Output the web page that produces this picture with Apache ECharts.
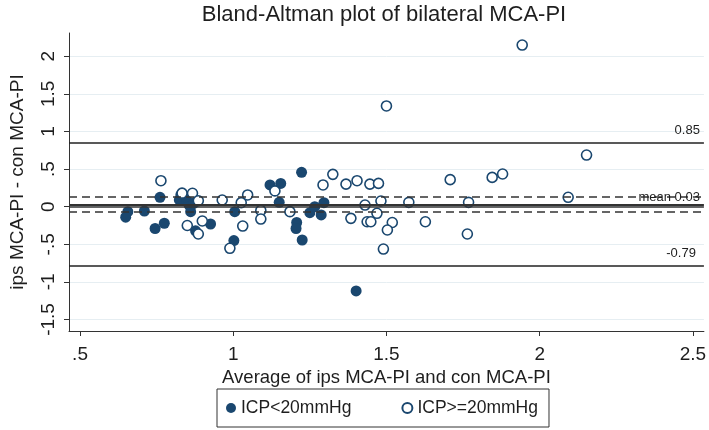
<!DOCTYPE html>
<html>
<head>
<meta charset="utf-8">
<script src="https://cdn.jsdelivr.net/npm/echarts@6/dist/echarts.min.js"></script>
<style>
html,body{margin:0;padding:0;background:#fff;}
#chart{width:709px;height:430px;}
</style>
</head>
<body>
<div id="chart"></div>
<script>
// ---- data ----
var lowICP = [ // ICP<20mmHg : [average, difference]
  [0.656,-0.066],[0.649,-0.14],[0.710,-0.057],[0.745,-0.29],[0.775,-0.22],
  [0.761,0.125],[0.829,0.156],[0.840,0.110],[0.824,0.090],[0.850,0.067],
  [0.856,0.020],[0.861,-0.066],[0.845,0.130],[0.870,0.040],[0.877,-0.32],
  [0.926,-0.23],[1.005,-0.066],[1.002,-0.45],[1.120,0.289],[1.155,0.31],
  [1.150,0.058],[1.223,0.457],[1.207,-0.21],[1.205,-0.29],[1.225,-0.443],
  [1.250,-0.08],[1.266,0.00],[1.287,-0.11],[1.296,0.053],[1.401,-1.12]
];
var highICP = [ // ICP>=20mmHg
  [0.764,0.346],[0.833,0.18],[0.867,0.178],[0.886,0.08],[0.850,-0.25],
  [0.899,-0.19],[0.886,-0.363],[0.964,0.089],[1.047,0.156],[1.026,0.053],
  [1.031,-0.257],[0.989,-0.553],[1.090,-0.05],[1.090,-0.164],[1.136,0.21],
  [1.185,-0.066],[1.325,0.43],[1.293,0.289],[1.368,0.30],[1.404,0.346],
  [1.446,0.30],[1.474,0.31],[1.430,0.022],[1.482,0.076],[1.469,-0.088],
  [1.384,-0.155],[1.437,-0.2],[1.449,-0.2],[1.519,-0.21],[1.503,-0.31],
  [1.490,-0.563],[1.573,0.058],[1.627,-0.2],[1.708,0.36],[1.768,0.058],
  [1.764,-0.363],[1.845,0.39],[1.879,0.435],[2.093,0.125],[2.153,0.687],
  [1.943,2.15],[1.500,1.34]
];
var seriesNames = ['ICP<20mmHg', 'ICP>=20mmHg'];
var xTicks = [0.5, 1, 1.5, 2, 2.5];
var yTicks = [-1.5, -1, -0.5, 0, 0.5, 1, 1.5, 2];
var upperLoA = 0.85, lowerLoA = -0.79, meanDiff = 0.03;
var meanCI = [0.133, -0.067];
var zeroLine = 0;
var titleText = 'Bland-Altman plot of bilateral MCA-PI';
var xName = 'Average of ips MCA-PI and con MCA-PI';
var yName = 'ips MCA-PI - con MCA-PI';

// ---- chart ----
var FONT = '"Liberation Sans", Arial, sans-serif';
var NAVY = '#1a476f';
var INK = '#1e1e1e';
function fmt(v){ var s = String(v); return s.replace(/^0\./,'.').replace(/^-0\./,'-.'); }

var chart = echarts.init(document.getElementById('chart'), null, {renderer:'canvas'});
var solid = {color:'#222', type:'solid', width:1.5};
var dashed = {color:'#333', type:[8,5], width:1.5};
var lblBase = {position:'insideEndTop', color:INK, fontSize:13, fontFamily:FONT};

chart.setOption({
  animation:false,
  backgroundColor:'#fff',
  textStyle:{fontFamily:FONT},
  graphic:[{type:'text', x:384, y:15, silent:true,
    style:{text:titleText, fill:INK, font:'22px "Liberation Sans", Arial, sans-serif',
      align:'center', verticalAlign:'middle'}}],
  grid:{left:64, right:5, top:33, bottom:99, containLabel:false},
  xAxis:{type:'value', min:0.464, max:2.536,
    name:xName, nameLocation:'middle', nameGap:33,
    nameTextStyle:{fontSize:18.5, color:INK, fontFamily:FONT},
    axisLine:{show:true, onZero:false, lineStyle:{color:'#333', width:1}},
    axisTick:{show:true, length:5, customValues:xTicks, lineStyle:{color:'#333'}},
    axisLabel:{customValues:xTicks, formatter:fmt, fontSize:19, color:INK, margin:14},
    splitLine:{show:false}},
  yAxis:{type:'value', min:-1.653, max:2.31,
    name:yName, nameLocation:'middle', nameGap:42,
    nameTextStyle:{fontSize:19, color:INK, fontFamily:FONT},
    axisLine:{show:true, onZero:false, lineStyle:{color:'#333', width:1}},
    axisTick:{show:true, length:5, customValues:yTicks, lineStyle:{color:'#333'}},
    axisLabel:{customValues:yTicks, formatter:fmt, fontSize:19, color:INK, rotate:90, margin:11},
    splitLine:{show:true, lineStyle:{color:'#e6eef2', width:1}}},
  legend:{left:217, top:389, orient:'horizontal',
    data:seriesNames, itemWidth:10, itemHeight:10, itemGap:50,
    padding:[10,11,10,9], borderColor:'#333', borderWidth:1,
    textStyle:{fontSize:17.5, color:INK, fontFamily:FONT}},
  series:[
    {name:seriesNames[0], type:'scatter', data:lowICP, symbol:'circle', symbolSize:11,
     itemStyle:{color:NAVY, opacity:1}, z:3,
     markLine:{silent:true, symbol:['none','none'], animation:false,
       data:[
         {yAxis:upperLoA, lineStyle:solid, label:Object.assign({}, lblBase, {formatter:'0.85', distance:[4,6]})},
         {yAxis:lowerLoA, lineStyle:solid, label:Object.assign({}, lblBase, {formatter:'-0.79', distance:[8,6]})},
         {yAxis:meanDiff, lineStyle:{color:'#333', type:'solid', width:2}, label:Object.assign({}, lblBase, {formatter:'mean 0.03', distance:[4,1]})},
         {yAxis:zeroLine, lineStyle:{color:'#333', type:'solid', width:1.5}, label:{show:false}},
         {yAxis:meanCI[0], lineStyle:dashed, label:{show:false}},
         {yAxis:meanCI[1], lineStyle:dashed, label:{show:false}}
       ]}},
    {name:seriesNames[1], type:'scatter', data:highICP, symbol:'circle', symbolSize:10,
     itemStyle:{color:'#fff', borderColor:NAVY, borderWidth:1.6, opacity:1}, z:4}
  ]
});
</script>
</body>
</html>
